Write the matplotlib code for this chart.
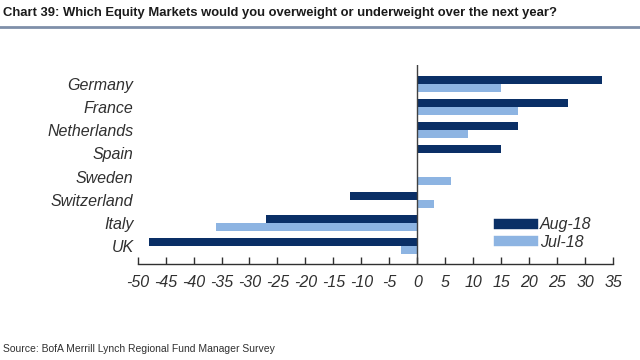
import matplotlib
matplotlib.use("Agg")
import matplotlib.pyplot as plt
from matplotlib.lines import Line2D
import numpy as np

plt.rcParams['font.family'] = ['Liberation Sans', 'DejaVu Sans']

countries = ["Germany", "France", "Netherlands", "Spain", "Sweden", "Switzerland", "Italy", "UK"]
aug18 = [33, 27, 18, 15, 0, -12, -27, -48]
jul18 = [15, 18, 9, 0, 6, 3, -36, -3]
xticks = list(range(-50, 40, 5))

navy = "#0A2F66"
light = "#8DB4E2"

fig = plt.figure(figsize=(6.4, 3.6), dpi=100)
ax = fig.add_axes([0.215, 0.2667, 0.743, 0.5527])

n = len(countries)
ypos = np.arange(n)[::-1]
h = 0.35
ax.barh(ypos + h / 2, aug18, height=h, color=navy, label="Aug-18")
ax.barh(ypos - h / 2, jul18, height=h, color=light, label="Jul-18")

ax.set_xlim(-50, 35)
ax.set_ylim(-0.78, n - 1 + 0.82)
ax.axvline(0, color="#404040", lw=1.0)

for s in ["top", "right", "left"]:
    ax.spines[s].set_visible(False)
ax.spines["bottom"].set_color("#303030")
ax.spines["bottom"].set_linewidth(1.0)

ax.set_xticks(xticks)
ax.set_xticklabels([str(v) for v in xticks], fontstyle="italic", fontsize=11.5, color="#303030")
ax.tick_params(axis="x", direction="in", length=5, width=1, color="#303030", pad=8)

ax.set_yticks(ypos)
ax.set_yticklabels(countries, fontstyle="italic", fontsize=11.5, color="#303030")
ax.tick_params(axis="y", length=0, pad=3)

handles = [Line2D([0], [0], color=navy, lw=7.5), Line2D([0], [0], color=light, lw=7.5)]
ax.legend(handles, ["Aug-18", "Jul-18"], loc="lower right", bbox_to_anchor=(0.985, 0.0),
          frameon=False, prop={"style": "italic", "size": 11.5}, handlelength=2.1,
          labelspacing=0.15, handletextpad=0.45, labelcolor="#303030")

fig.text(0.005, 0.963, "Chart 39: Which Equity Markets would you overweight or underweight over the next year?",
         fontsize=9.4, fontweight="bold", color="#1a1a1a", va="center", ha="left")
fig.add_artist(Line2D([0, 1], [0.925, 0.925], transform=fig.transFigure, color="#7F8FA9", lw=2))
fig.text(0.005, 0.03, "Source: BofA Merrill Lynch Regional Fund Manager Survey",
         fontsize=7.5, color="#303030", va="center", ha="left")

fig.savefig("out.png", dpi=100)
